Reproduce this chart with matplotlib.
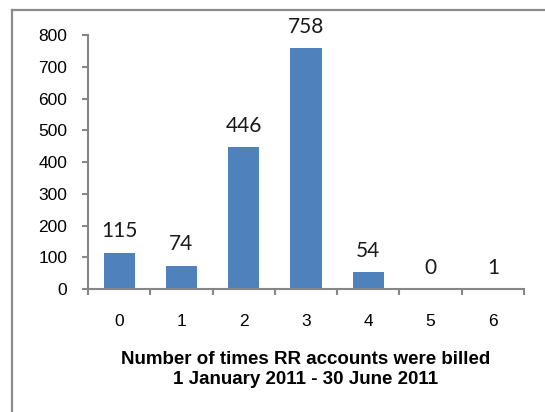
import numpy as np
import matplotlib.pyplot as plt
from matplotlib.lines import Line2D

# contagem de contas por numero de faturas
vezes = ['0', '1', '2', '3', '4', '5', '6']
contas = [115, 74, 446, 758, 54, 0, 1]
yticks = [0, 100, 200, 300, 400, 500, 600, 700, 800]

cinza = '#868686'
azul = '#4F81BD'

fig = plt.figure(figsize=(5.45, 4.12), dpi=100)
ax = fig.add_axes([0.1615, 0.2985, 0.80, 0.6165])

x = np.arange(len(vezes))
ax.bar(x, contas, width=0.5, color=azul, zorder=2)

# rotulos de valor acima das barras
for xi, v in zip(x, contas):
    ax.annotate(str(v), (xi, v), xytext=(0, 8), textcoords='offset points',
                ha='center', va='bottom', fontsize=15, family='Lato', color='#1a1a1a')

ax.set_xlim(-0.5, len(vezes) - 0.5)
ax.set_ylim(0, 800)
ax.set_yticks(yticks)
ax.set_yticklabels([str(t) for t in yticks], fontsize=12.5, family='Liberation Sans')
ax.set_xticks(x)
ax.set_xticklabels(vezes, fontsize=12.5, family='Liberation Sans')
ax.set_xticks(np.arange(-0.5, len(vezes)), minor=True)
ax.tick_params(axis='x', which='major', length=0, pad=18)
ax.tick_params(axis='x', which='minor', length=4.3, width=1.5, color=cinza, direction='out')
ax.tick_params(axis='y', length=4.3, width=1.5, color=cinza, pad=10.5, direction='out')

for lado in ['top', 'right']:
    ax.spines[lado].set_visible(False)
for lado in ['left', 'bottom']:
    ax.spines[lado].set_color(cinza)
    ax.spines[lado].set_linewidth(1.5)

ax.set_xlabel('Number of times RR accounts were billed\n1 January 2011 - 30 June 2011',
              fontsize=13.5, fontweight='bold', family='Liberation Sans', labelpad=16,
              linespacing=1.25)

# moldura da figura
fig.add_artist(Line2D([0.022, 1.0], [0.975, 0.975], color='#8c8c8c', lw=1.6))
fig.add_artist(Line2D([0.022, 0.022], [0.0, 0.975], color='#8c8c8c', lw=1.6))

plt.savefig('out.png', dpi=100)
